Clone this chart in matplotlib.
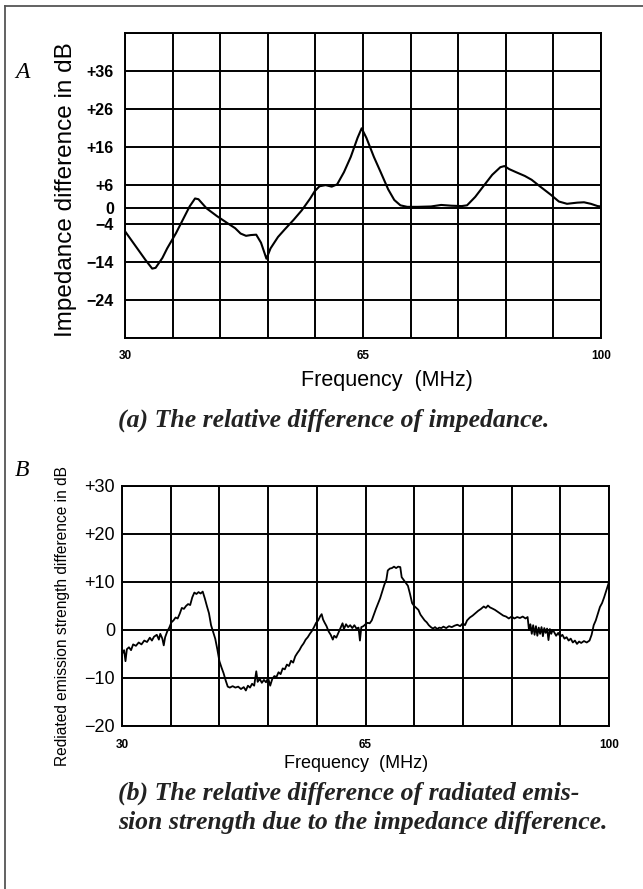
import matplotlib
matplotlib.use('Agg')
import matplotlib.pyplot as plt

# impedance difference (dB) vs frequency (MHz)
freq_a = [30.0, 31.0, 32.0, 33.0, 34.0, 34.5, 35.5, 36.2, 37.5, 38.5, 39.5, 40.3, 40.8,
          42.0, 43.5, 45.0, 46.2, 47.0, 47.8, 48.5, 49.3, 50.0, 50.8, 51.4, 52.5, 53.5,
          54.8, 56.0, 57.2, 57.9, 58.6, 59.5, 60.4, 61.2, 62.2, 63.2, 64.2, 64.8, 65.5,
          66.6, 67.6, 68.7, 69.6, 70.5, 71.5, 73.0, 75.0, 76.5, 78.0, 79.5, 80.3, 81.5,
          82.7, 84.0, 85.2, 85.8, 86.5, 87.5, 88.8, 89.8, 91.0, 92.6, 93.8, 95.0, 96.5,
          97.5, 98.5, 99.5, 100.0]
imp_a = [-6.0, -8.5, -11.0, -13.5, -15.8, -15.6, -13.0, -10.5, -6.5, -3.0, 0.5, 2.6, 2.4,
         0.0, -2.0, -3.8, -5.2, -6.6, -7.2, -7.0, -6.9, -9.0, -13.2, -10.5, -7.5, -5.5,
         -3.0, -0.5, 2.5, 4.5, 5.8, 6.1, 5.7, 6.3, 9.5, 13.5, 18.5, 21.0, 18.5,
         13.5, 9.5, 5.0, 2.2, 0.8, 0.4, 0.4, 0.5, 0.9, 0.7, 0.6, 0.8, 3.0,
         5.8, 8.8, 10.8, 11.1, 10.3, 9.5, 8.5, 7.5, 5.8, 3.6, 1.8, 1.2, 1.5,
         1.6, 1.2, 0.6, 0.5]

# radiated emission strength difference (dB) vs frequency (MHz)
freq_b = [30.0, 30.3, 30.5, 30.7, 31.0, 31.3, 31.6, 32.0, 32.4, 32.8, 33.2, 33.6, 34.0,
          34.3, 34.6, 35.0, 35.3, 35.5, 35.8, 36.0, 36.2, 36.5, 36.8, 37.1, 37.4, 37.7,
          38.0, 38.3, 38.6, 38.9, 39.2, 39.5, 39.8, 40.1, 40.4, 40.7, 41.0, 41.3, 41.6,
          41.9, 42.2, 42.5, 42.8, 43.1, 43.4, 43.7, 44.0, 44.3, 44.6, 44.9, 45.2, 45.5,
          45.9, 46.3, 46.7, 47.1, 47.5, 47.8, 48.1, 48.4, 48.7, 49.0, 49.3, 49.5, 49.8,
          50.1, 50.4, 50.7, 51.0, 51.3, 51.6, 51.9, 52.2, 52.5, 52.8, 53.1, 53.4, 53.7,
          54.0, 54.3, 54.6, 54.9, 55.2, 55.5, 55.8, 56.1, 56.4, 56.7, 57.0, 57.3, 57.6,
          57.9, 58.2, 58.5, 58.7, 58.9, 59.1, 59.4, 59.7, 60.0, 60.3, 60.5, 60.8, 61.1,
          61.4, 61.7, 61.9, 62.2, 62.5, 62.8, 63.1, 63.4, 63.7, 64.0, 64.2, 64.4, 64.7,
          65.0, 65.3, 65.6, 65.9, 66.2, 66.5, 66.8, 67.1, 67.4, 67.7, 68.0, 68.2, 68.5,
          68.8, 69.1, 69.4, 69.7, 70.0, 70.2, 70.5, 70.8, 71.1, 71.4, 71.7, 72.0, 72.3,
          72.6, 72.9, 73.2, 73.5, 73.8, 74.1, 74.4, 74.7, 75.0, 75.3, 75.6, 75.9, 76.2,
          76.6, 77.0, 77.4, 77.8, 78.2, 78.6, 79.0, 79.3, 79.6, 80.0, 80.4, 80.8, 81.2,
          81.6, 82.0, 82.3, 82.6, 82.9, 83.2, 83.6, 84.0, 84.4, 84.8, 85.2, 85.6, 86.0,
          86.4, 86.8, 87.2, 87.6, 88.0, 88.3, 88.5, 88.7, 88.9, 89.1, 89.3, 89.5, 89.7,
          89.9, 90.1, 90.3, 90.5, 90.7, 90.9, 91.1, 91.3, 91.5, 91.7, 91.9, 92.1, 92.4,
          92.7, 93.0, 93.3, 93.6, 93.9, 94.2, 94.5, 94.8, 95.1, 95.4, 95.7, 96.0, 96.4,
          96.8, 97.2, 97.5, 97.8, 98.1, 98.4, 98.7, 99.0, 99.3, 99.6, 100.0]
emis_b = [-5.0, -4.2, -6.5, -4.0, -3.6, -4.2, -3.0, -3.3, -2.6, -3.0, -2.2, -2.5, -1.6,
          -2.2, -1.4, -1.0, -2.0, -0.8, -1.8, -3.2, -1.5, -0.3, 0.5, 1.6, 2.0, 2.6,
          2.4, 3.4, 4.6, 4.4, 5.0, 5.4, 5.2, 6.8, 7.8, 7.5, 7.9, 7.6, 8.0,
          6.6, 5.0, 3.5, 1.0, -0.4, -1.8, -4.0, -6.5, -7.8, -9.0, -10.5, -11.8, -12.0,
          -11.7, -12.0, -11.8, -12.3, -11.9, -12.6, -11.6, -12.0, -11.2, -11.6, -8.6, -10.8, -10.2,
          -11.0, -10.4, -10.9, -10.0, -11.6, -10.2, -9.6, -9.8, -8.8, -9.2, -8.0, -8.2, -7.2,
          -7.5, -6.4, -6.8, -5.5, -4.8, -4.2, -3.4, -2.8, -2.0, -1.5, -0.8, -0.2, 0.6,
          1.5, 2.0, 2.9, 3.3, 2.2, 1.6, 0.8, -0.3, -1.0, -2.0, -1.2, -1.6, -0.6,
          0.4, 1.4, 0.2, 1.2, 0.6, 1.0, 0.4, 1.0, 0.3, 0.5, -2.2, 0.6, 0.8,
          1.2, 1.5, 1.4, 2.0, 3.2, 4.4, 5.5, 6.6, 8.0, 9.4, 10.5, 12.4, 12.8,
          12.9, 13.2, 12.9, 13.2, 13.1, 11.0, 10.4, 9.8, 9.2, 7.5, 5.6, 5.0, 4.6,
          4.2, 3.2, 2.6, 2.0, 1.6, 1.0, 0.6, 0.3, 0.6, 0.2, 0.5, 0.4, 0.7,
          0.4, 0.8, 0.6, 0.9, 1.1, 0.8, 1.4, 1.0, 2.0, 2.6, 3.0, 3.5, 4.0,
          4.4, 4.9, 4.6, 5.1, 4.7, 4.5, 4.2, 3.8, 3.4, 3.0, 2.8, 2.4, 2.8,
          2.4, 2.7, 2.5, 2.8, 2.4, 2.7, 0.0, 1.2, -0.8, 1.0, -1.0, 0.8, -1.2,
          0.5, -0.8, 0.6, -1.3, 0.4, -0.6, 0.3, -2.1, 0.2, -0.8, 0.0, -0.4, -1.2,
          -0.6, -1.4, -1.0, -1.8, -1.5, -2.2, -1.8, -2.6, -2.2, -2.9, -2.4, -2.7, -2.3,
          -2.6, -2.2, -1.0, 1.0, 2.0, 3.4, 4.8, 5.6, 6.8, 8.2, 10.0]

# grids and tick labels
freq_grid = [30, 37, 44, 51, 58, 65, 72, 79, 86, 93, 100]
freq_ticks = [30, 65, 100]
imp_grid = [-34, -24, -14, -4, 0, 6, 16, 26, 36, 46]
imp_ticks = [36, 26, 16, 6, 0, -4, -14, -24]
imp_tick_labels = ['+36', '+26', '+16', '+6', '0', '\u22124', '\u221214', '\u221224']
emis_ticks = [30, 20, 10, 0, -10, -20]
emis_tick_labels = ['+30', '+20', '+10', '0', '\u221210', '\u221220']

W, H = 643, 889
fig = plt.figure(figsize=(W / 100, H / 100), dpi=100)
fig.patch.set_facecolor('white')

sans = 'Liberation Sans'
serif = 'Liberation Serif'


def px_rect(left, top, right, bottom):
    return [left / W, 1 - bottom / H, (right - left) / W, (bottom - top) / H]


def grid_box(ax, xgrid, ygrid):
    for x in xgrid:
        ax.axvline(x, color='black', lw=1.4, zorder=1)
    for y in ygrid:
        ax.axhline(y, color='black', lw=1.4, zorder=1)
    for s in ax.spines.values():
        s.set_linewidth(1.4)


# (a) impedance
ax1 = fig.add_axes(px_rect(125, 33, 601, 338))
ax1.plot(freq_a, imp_a, color='black', lw=1.5, zorder=3)
ax1.set_xlim(30, 100)
ax1.set_ylim(-34, 46)
grid_box(ax1, freq_grid, imp_grid)
ax1.set_xticks(freq_ticks)
ax1.set_xticklabels([str(t) for t in freq_ticks], fontsize=8.5,
                    fontweight='bold', family=sans)
ax1.set_yticks(imp_ticks)
ax1.set_yticklabels(imp_tick_labels, fontsize=11.5, fontweight='bold', family=sans)
ax1.tick_params(axis='x', length=0, pad=9)
ax1.tick_params(axis='y', length=0, pad=8)
ax1.set_xlabel('Frequency  (MHz)', fontsize=15.5, family=sans)
ax1.xaxis.set_label_coords(0.55, -0.105)
ax1.set_ylabel('Impedance difference in dB', fontsize=17.5, family=sans)
ax1.yaxis.set_label_coords(-0.1, 0.485)

# (b) radiated emission
ax2 = fig.add_axes(px_rect(122, 486, 609, 726))
ax2.plot(freq_b, emis_b, color='black', lw=1.3, zorder=3)
ax2.set_xlim(30, 100)
ax2.set_ylim(-20, 30)
grid_box(ax2, freq_grid, emis_ticks)
ax2.set_xticks(freq_ticks)
ax2.set_xticklabels([str(t) for t in freq_ticks], fontsize=8.5,
                    fontweight='bold', family=sans)
ax2.set_yticks(emis_ticks)
ax2.set_yticklabels(emis_tick_labels, fontsize=13, family=sans)
ax2.tick_params(axis='x', length=0, pad=9)
ax2.tick_params(axis='y', length=0, pad=5)
ax2.set_xlabel('Frequency  (MHz)', fontsize=13, family=sans)
ax2.xaxis.set_label_coords(0.48, -0.12)
ax2.set_ylabel('Rediated emission strength difference in dB', fontsize=11.2, family=sans)
ax2.yaxis.set_label_coords(-0.107, 0.46)

# panel letters and captions
cap = dict(family=serif, style='italic', fontweight='bold', color='#222222')
fig.text(22 / W, 1 - 73 / H, 'A', fontsize=17, family=serif, style='italic',
         ha='center', va='center')
fig.text(22 / W, 1 - 470 / H, 'B', fontsize=17, family=serif, style='italic',
         ha='center', va='center')
fig.text(118 / W, 1 - 420 / H, '(a) The relative difference of impedance.',
         fontsize=18.5, ha='left', va='center', **cap)
fig.text(118 / W, 1 - 793 / H, '(b) The relative difference of radiated emis-',
         fontsize=18.5, ha='left', va='center', **cap)
fig.text(118 / W, 1 - 823 / H, 'sion strength due to the impedance difference.',
         fontsize=18.5, ha='left', va='center', **cap)

# page frame
fig.add_artist(plt.Line2D([5 / W, 5 / W], [0, 1 - 6 / H], color='#555555', lw=1.3))
fig.add_artist(plt.Line2D([5 / W, 1], [1 - 6 / H, 1 - 6 / H], color='#555555', lw=1.3))

fig.savefig('out.png', dpi=100)
